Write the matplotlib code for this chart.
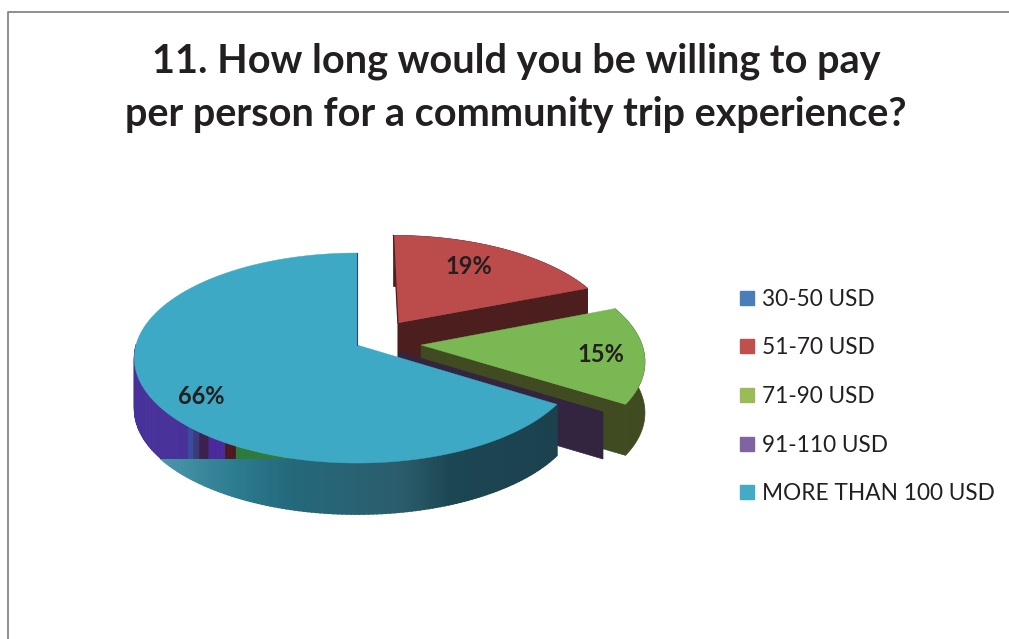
import numpy as np
import matplotlib
matplotlib.use("Agg")
import matplotlib.pyplot as plt
from matplotlib.colors import LinearSegmentedColormap
from matplotlib.lines import Line2D
from matplotlib.patches import Rectangle

# Data
title = "11. How long would you be willing to pay\nper person for a community trip experience?"
categories = ["30-50 USD", "51-70 USD", "71-90 USD", "91-110 USD", "MORE THAN 100 USD"]
values = [0, 19, 15, 0, 66]

# Colours
legend_colors = ["#4a7ebb", "#c0504d", "#9bbb59", "#8064a2", "#42acc7"]
top_colors = ["#4a7ebb", "#bc4b4c", "#7ab853", "#8064a2", "#3da9c4"]
wall_colors = ["#2f3f8f", "#4c1e1e", "#404b22", "#33243f", "#1b424f"]
text_color = "#231f20"

# Pie layout, in pixels of the picture
cx, cy = 357, 345
rx, ry = 221, 103.4
persp = 0.124
depth = 51
wall_depth = [51, 51, 51, 47, 51]
cut_y = 459
cut_x = 290
offsets = [(0, 0), (0.19, -0.22), (0.29, 0.0), (0.186, 0.064), (0, 0)]
label_pos = [None, (469, 266), (601, 354), None, (201, 397)]

# Stripes on the left part of the rim: right edge in x, colour
left_bands = [(150, "#46329a"), (186, "#483198"), (193, "#3c4a9e"), (200, "#3a3a78"),
              (208, "#3d1f50"), (224, "#4a2a9a"), (234, "#4a1a20"), (300, "#2e7a3a")]
rim_cmap = LinearSegmentedColormap.from_list(
    "rim", [(0, "#4a94a8"), (0.19, "#2a7a8e"), (0.32, "#24697b"), (0.6, "#2b5d6d"),
            (0.73, "#1c4652"), (1, "#1b424f")])


def project(u, v, drop=0):
    s = 1 / (1 - persp * v)
    return cx + rx * u * s, cy + ry * v * s + drop


def edge(a, b, off, drop=0, n=80):
    t = np.radians(np.linspace(a, b, n))
    return project(np.sin(t) + off[0], -np.cos(t) + off[1], drop)


fig = plt.figure(figsize=(10.09, 6.39), dpi=100)
ax = fig.add_axes([0, 0, 1, 1])
ax.set_xlim(0, 1009)
ax.set_ylim(639, 0)
ax.axis("off")

# Chart border, open on the right
ax.plot([8, 8, 1009], [639, 12, 12], color="#868686", lw=1.3)

angles = np.concatenate([[0], np.cumsum(values) * 3.6])

for i in [1, 2, 3, 4]:
    a, b = angles[i], angles[i + 1]
    off = offsets[i]
    p0 = project(off[0], off[1])
    pe = edge(b, b, off, n=1)
    # cut wall at the end of the slice
    ax.fill([p0[0], pe[0][0], pe[0][0], p0[0]],
            [p0[1], pe[1][0], pe[1][0] + wall_depth[i], p0[1] + wall_depth[i]],
            color=wall_colors[i], lw=0.5, zorder=i)
    if values[i] == 0:
        continue
    if i == 4:
        # rim in narrow strips, shaded along x
        steps = np.arange(a, 270.5, 1.0)
        hi = edge(a, a, off, n=1)[0][0]
        lower = Rectangle((0, cut_y), 1009, 200, transform=ax.transData)
        upper = Rectangle((0, 0), 1009, cut_y, transform=ax.transData)
        for s0, s1 in zip(steps[:-1], steps[1:]):
            xt, yt = edge(s0, s1, off, n=4)
            xb, yb = edge(s1, s0, off, depth, n=4)
            xm = xt.mean()
            shade = rim_cmap(max(xm - 165, 0) / (hi - 165))
            poly = ax.fill(np.r_[xt, xb], np.r_[yt, yb], color=shade, lw=1.2, zorder=i)[0]
            if xm < cut_x:
                poly.set_clip_path(lower)
                col = next(c for r, c in left_bands if xm <= r)
                poly2 = ax.fill(np.r_[xt, xb], np.r_[yt, yb], color=col, lw=0.6, zorder=i)[0]
                poly2.set_clip_path(upper)
    else:
        xt, yt = edge(a, b, off)
        xb, yb = edge(b, a, off, depth)
        ax.fill(np.r_[xt, xb], np.r_[yt, yb], color=wall_colors[i], lw=0.5, zorder=i)
    # top face
    xt, yt = edge(a, b, off, n=200)
    ax.fill(np.r_[p0[0], xt], np.r_[p0[1], yt], color=top_colors[i], lw=0.3, zorder=i + 0.5)
    if i == 1:
        ax.plot([p0[0], xt[0]], [p0[1], yt[0]], color=wall_colors[i], lw=0.9, zorder=i + 0.6)

# The empty first slice shows only as a thin line
p0 = project(*offsets[0])
pe = edge(angles[0], angles[0], offsets[0], n=1)
ax.plot([p0[0], pe[0][0]], [p0[1], pe[1][0]], color=wall_colors[0], lw=0.8, zorder=6)

# Percent labels
for val, pos in zip(values, label_pos):
    if pos:
        ax.text(pos[0], pos[1], f"{val}%", family="Lato", weight="bold", fontsize=17,
                color=text_color, ha="center", va="center", zorder=7)

# Title
ax.text(516, 88, title, family="Lato", weight="bold", fontsize=28.5, color=text_color,
        ha="center", va="center", linespacing=1.53, zorder=7)

# Legend
handles = [Line2D([], [], marker="s", ls="none", ms=10.6, color=c) for c in legend_colors]
ax.legend(handles, categories, loc="center left", bbox_to_anchor=(737 / 1009, 1 - 396.5 / 639),
          frameon=False, labelcolor=text_color, labelspacing=1.22, borderpad=0, borderaxespad=0,
          handlelength=0.9, handletextpad=0.2, prop={"family": "Lato", "size": 16.3})

fig.savefig("out.png", dpi=100, facecolor="white")
